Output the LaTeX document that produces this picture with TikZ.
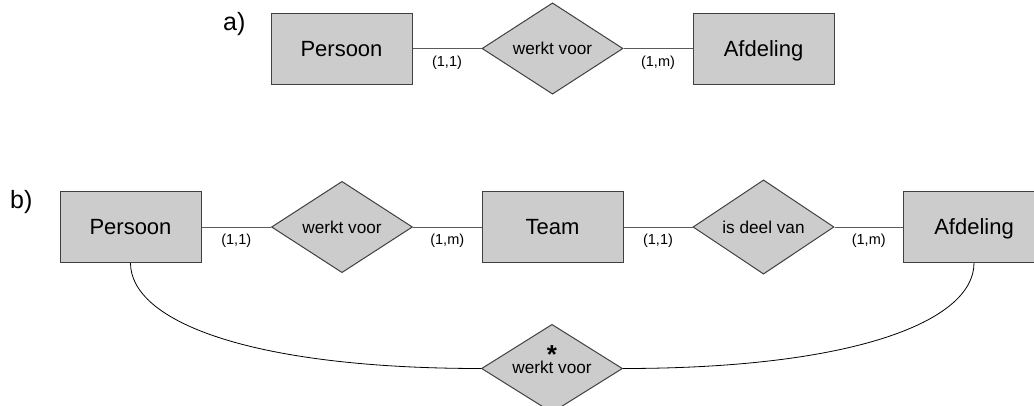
\documentclass[tikz,border=0pt]{standalone}
\usepackage{fontspec}
\setmainfont{Liberation Sans}
\usetikzlibrary{shapes.geometric}

\definecolor{shapefill}{HTML}{CCCCCC}
\definecolor{shapeline}{HTML}{404040}
\definecolor{linkline}{HTML}{5A5A5A}

\tikzset{
  entity/.style={draw=shapeline, line width=1pt, fill=shapefill, rectangle,
    minimum width=141pt, minimum height=71pt, inner sep=0pt,
    font=\fontsize{22}{24}\selectfont, text height=15.8pt, text depth=0pt},
  relation/.style={draw=shapeline, line width=1pt, fill=shapefill, diamond,
    minimum width=141pt, minimum height=71pt, inner sep=0pt,
    font=\fontsize{17.2}{19}\selectfont, text height=12pt, text depth=0pt},
  link/.style={draw=linkline, line width=1pt},
  arc/.style={draw=black, line width=0.8pt},
  card/.style={font=\fontsize{14.5}{16}\selectfont, anchor=base, inner sep=0pt,
    pos=0.5, yshift=-17.5pt},
  partlabel/.style={font=\fontsize{25}{27}\selectfont, anchor=base west, inner sep=0pt},
}

% asterisk set centred above a relation name
\newcommand{\starredname}[1]{%
  \ooalign{\hfil\raisebox{10pt}{\fontsize{26}{28}\bfseries\selectfont *}\hfil\cr
           \hfil#1\hfil\cr}}

\begin{document}
\begin{tikzpicture}[x=1pt, y=-1pt]
  \path[use as bounding box, clip] (0,0) rectangle (1034,405);

  % a) direct relationship
  \node[partlabel] (la) at (223,30) {a)};
  \node[entity]   (pa) at (341.5,48.5) {Persoon};
  \node[relation] (wa) at (552.5,48.5) {werkt voor};
  \node[entity]   (aa) at (763.5,48.5) {Afdeling};
  \draw[link] (pa) -- node[card] {(1,1)} (wa);
  \draw[link] (wa) -- node[card] {(1,m)} (aa);

  % b) relationship via team, plus derived relationship
  \node[partlabel] (lb) at (10,208) {b)};
  \node[entity]   (pb) at (130.5,227) {Persoon};
  \node[relation] (wb) at (342,227) {werkt voor};
  \node[entity]   (tb) at (552.5,227) {Team};
  \node[relation] (db) at (763.5,227) {is deel van};
  \node[entity]   (ab) at (974,227) {Afdeling};
  \draw[link] (pb) -- node[card] {(1,1)} (wb);
  \draw[link] (wb) -- node[card] {(1,m)} (tb);
  \draw[link] (tb) -- node[card] {(1,1)} (db);
  \draw[link] (db) -- node[card] {(1,m)} (ab);

  \node[relation, text height=9pt] (wd) at (552,368.5) {\starredname{werkt voor}};
  \draw[arc] (pb.south) .. controls +(0,58) and +(-232,0) .. (wd.west);
  \draw[arc] (ab.south) .. controls +(0,58) and +(232,0) .. (wd.east);
\end{tikzpicture}
\end{document}
